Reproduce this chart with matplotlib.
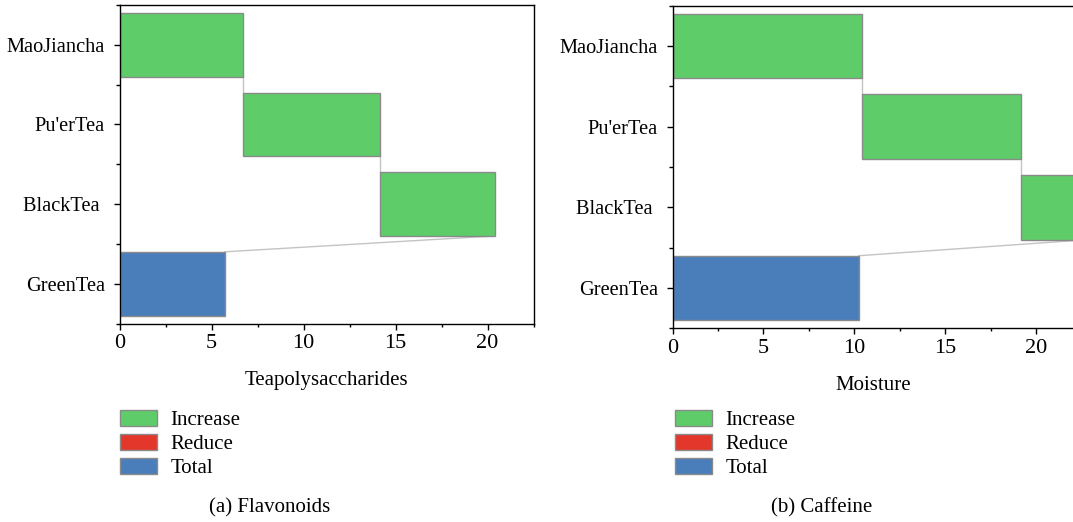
import matplotlib
matplotlib.use("Agg")
import matplotlib.pyplot as plt
from matplotlib.patches import Patch
from matplotlib.ticker import MultipleLocator

plt.rcParams['font.family'] = ['Liberation Serif', 'DejaVu Serif']

# categories, top to bottom
categorias = ["MaoJiancha", "Pu'erTea", "BlackTea ", "GreenTea"]
tipos = ["increase", "increase", "increase", "total"]

# teapolysaccharides (flavonoids panel)
flavonoides = [6.72, 7.43, 6.26, 5.71]
# moisture (caffeine panel)
cafeina = [10.45, 8.70, 3.75, 10.25]

cores = {"increase": "#5ecc68", "reduce": "#e3372b", "total": "#4a7ebb"}
borda = "#8a8a8a"
conector = "#c4c4c4"


def waterfall(ax, valores, xlabel, xmax):
    inicio = []
    fim = []
    acumulado = 0
    for v, t in zip(valores, tipos):
        if t == "total":
            inicio.append(0)
            fim.append(v)
        else:
            inicio.append(acumulado)
            acumulado += v
            fim.append(acumulado)
    larguras = [f - i for i, f in zip(inicio, fim)]
    pos = list(range(len(categorias)))
    ax.barh(pos, larguras, left=inicio, height=0.8,
            color=[cores[t] for t in tipos], edgecolor=borda, linewidth=1.0,
            zorder=2)

    # connecting lines between consecutive bars
    for i in range(len(pos) - 1):
        destino = fim[i + 1] if tipos[i + 1] == "total" else inicio[i + 1]
        ax.plot([fim[i], destino], [pos[i] + 0.4, pos[i + 1] - 0.4],
                color=conector, linewidth=1.0, zorder=1)

    ax.set_yticks(pos)
    ax.set_yticklabels(categorias, fontsize=14.7)
    ax.set_ylim(len(pos) - 0.5, -0.5)
    ax.yaxis.set_minor_locator(MultipleLocator(1.0, offset=0.5))
    ax.set_xlim(0, xmax)
    ax.xaxis.set_major_locator(MultipleLocator(5))
    ax.xaxis.set_minor_locator(MultipleLocator(2.5))
    ax.tick_params(axis='x', which='major', length=4.5, width=1.0,
                   labelsize=16, pad=3)
    ax.tick_params(axis='x', which='minor', length=2.5, width=1.0)
    ax.tick_params(axis='y', which='major', length=4.5, width=1.0, pad=6)
    ax.tick_params(axis='y', which='minor', length=3, width=1.0)
    ax.set_xlabel(xlabel, fontsize=15, labelpad=13)
    for s in ax.spines.values():
        s.set_linewidth(1.0)


fig = plt.figure(figsize=(10.73, 5.22), dpi=100)

ax1 = fig.add_axes([119.5 / 1073, 1 - 323.5 / 522, 414 / 1073, 318.5 / 522])
waterfall(ax1, flavonoides, "Teapolysaccharides", 22.5)

ax2 = fig.add_axes([672.5 / 1073, 1 - 328.3 / 522, 401 / 1073, 322.6 / 522])
waterfall(ax2, cafeina, "Moisture", 22.06)
ax2.spines['right'].set_visible(False)

itens = [Patch(facecolor=cores[k], edgecolor=borda, linewidth=1.0)
         for k in ("increase", "reduce", "total")]
nomes = ["Increase", "Reduce", "Total"]

for x0 in (116 / 1073, 671 / 1073):
    fig.legend(itens, nomes, loc='upper left', bbox_to_anchor=(x0, 1 - 406 / 522),
               frameon=False, fontsize=15, handlelength=1.75, handleheight=0.8,
               handletextpad=0.65, labelspacing=0.18, borderpad=0.2,
               borderaxespad=0)

fig.text(270 / 1073, 1 - 508 / 522, "(a) Flavonoids", fontsize=15,
         ha='center', va='center')
fig.text(821.7 / 1073, 1 - 508 / 522, "(b) Caffeine", fontsize=15,
         ha='center', va='center')

fig.savefig("out.png", dpi=100)
